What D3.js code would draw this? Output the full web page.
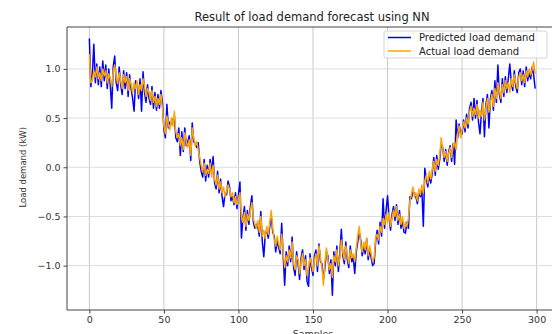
<!DOCTYPE html>
<html>
<head>
<meta charset="utf-8">
<script src="https://cdn.jsdelivr.net/npm/d3@7"></script>
<style>
  body { margin: 0; background: #fff; }
  svg { display: block; font-family: "DejaVu Sans", sans-serif; }
</style>
</head>
<body>
<script>
// values, 300 samples each
var actual = [
  1.15, 0.86, 0.88, 0.98, 0.92, 1.02, 0.90, 0.96, 0.88, 1.00,
  0.93, 0.98, 0.86, 0.95, 0.90, 0.82, 0.97, 1.04, 0.92, 0.85,
  0.96, 0.88, 0.80, 0.94, 0.86, 0.92, 0.78, 0.90, 0.84, 0.76,
  0.86, 0.80, 0.88, 0.74, 0.84, 0.78, 0.90, 0.82, 0.72, 0.80,
  0.76, 0.68, 0.78, 0.66, 0.72, 0.62, 0.70, 0.64, 0.74, 0.60,
  0.42, 0.34, 0.52, 0.44, 0.38, 0.50, 0.42, 0.57, 0.36, 0.30,
  0.34, 0.22, 0.30, 0.18, 0.35, 0.26, 0.20, 0.28, 0.12, 0.40,
  0.30, 0.22, 0.26, 0.18, 0.10, 0.02, -0.05, 0.04, -0.08, -0.02,
  -0.06, 0.04, -0.10, 0.02, -0.12, -0.18, -0.08, -0.22, -0.15, -0.26,
  -0.20, -0.30, -0.24, -0.18, -0.22, -0.30, -0.26, -0.36, -0.30, -0.38,
  -0.32, -0.26, -0.50, -0.56, -0.46, -0.60, -0.48, -0.54, -0.44, -0.36,
  -0.52, -0.58, -0.62, -0.54, -0.66, -0.50, -0.70, -0.64, -0.72, -0.60,
  -0.68, -0.56, -0.44, -0.62, -0.74, -0.80, -0.70, -0.78, -0.84, -0.68,
  -0.86, -1.02, -0.90, -0.96, -0.84, -0.92, -0.76, -0.98, -1.04, -0.90,
  -0.94, -1.08, -0.96, -0.88, -1.00, -0.94, -1.10, -1.02, -0.92, -0.98,
  -1.06, -0.94, -0.88, -1.00, -0.80, -0.92, -1.02, -1.20, -0.96, -0.82,
  -0.94, -1.04, -0.98, -1.12, -0.90, -0.96, -0.84, -1.00, -0.92, -0.74,
  -0.86, -0.94, -0.80, -0.90, -0.98, -0.84, -0.92, -0.88, -0.96, -0.82,
  -0.70, -0.60, -0.78, -0.86, -0.76, -0.84, -0.72, -0.90, -0.80, -0.88,
  -0.96, -0.92, -0.72, -0.68, -0.74, -0.60, -0.66, -0.52, -0.58, -0.48,
  -0.56, -0.46, -0.60, -0.52, -0.44, -0.50, -0.40, -0.54, -0.48, -0.58,
  -0.50, -0.62, -0.56, -0.60, -0.52, -0.34, -0.28, -0.20, -0.30, -0.26,
  -0.34, -0.22, -0.28, -0.18, -0.26, -0.14, -0.08, -0.16, -0.04, -0.12,
  -0.02, 0.06, -0.04, 0.08, 0.02, 0.12, 0.30, 0.18, 0.10, 0.16,
  0.06, 0.14, 0.20, 0.10, 0.22, 0.26, 0.18, 0.34, 0.42, 0.30,
  0.38, 0.46, 0.40, 0.50, 0.44, 0.56, 0.62, 0.52, 0.60, 0.54,
  0.64, 0.50, 0.58, 0.52, 0.66, 0.48, 0.60, 0.70, 0.56, 0.66,
  0.74, 0.62, 0.80, 0.70, 0.86, 0.78, 0.70, 0.84, 0.76, 0.88,
  0.80, 0.86, 0.76, 0.90, 0.82, 0.94, 0.86, 0.80, 0.92, 0.96,
  0.88, 0.94, 0.86, 0.98, 0.92, 1.00, 0.94, 1.00, 1.07, 0.95
];

var predicted = [
  1.31, 0.82, 0.95, 1.25, 0.86, 1.05, 0.84, 1.02, 0.82, 1.08,
  0.88, 1.04, 0.80, 1.00, 0.84, 0.60, 1.02, 1.13, 0.86, 0.78,
  1.02, 0.84, 0.74, 0.98, 0.80, 0.96, 0.72, 0.94, 0.80, 0.70,
  0.57, 0.88, 0.84, 0.70, 0.90, 0.57, 0.97, 0.76, 0.66, 0.84,
  0.70, 0.64, 0.82, 0.60, 0.76, 0.58, 0.74, 0.60, 0.78, 0.66,
  0.38, 0.30, 0.64, 0.40, 0.46, 0.44, 0.48, 0.52, 0.30, 0.26,
  0.40, 0.12, 0.36, 0.16, 0.40, 0.22, 0.26, 0.32, 0.07, 0.45,
  0.26, 0.24, 0.20, 0.25, 0.06, -0.04, -0.10, 0.08, -0.14, 0.02,
  -0.10, 0.08, -0.06, 0.11, -0.16, -0.22, -0.04, -0.26, -0.12, -0.30,
  -0.40, -0.26, -0.28, -0.14, -0.20, -0.34, -0.30, -0.38, -0.26, -0.42,
  -0.28, -0.15, -0.72, -0.52, -0.40, -0.64, -0.44, -0.58, -0.40, -0.29,
  -0.56, -0.62, -0.58, -0.60, -0.70, -0.45, -0.76, -0.91, -0.68, -0.64,
  -0.72, -0.60, -0.50, -0.66, -0.70, -0.86, -0.74, -0.82, -0.88, -0.57,
  -0.90, -1.20, -0.86, -1.00, -0.80, -0.96, -0.71, -1.02, -1.10, -0.86,
  -0.98, -1.14, -0.92, -0.84, -1.04, -0.90, -1.16, -1.21, -0.88, -1.02,
  -1.10, -0.90, -0.84, -1.06, -0.78, -0.96, -0.98, -1.14, -1.02, -0.86,
  -0.90, -1.08, -0.94, -1.30, -0.86, -1.00, -0.80, -1.06, -0.88, -0.63,
  -0.90, -0.98, -0.76, -0.94, -1.02, -0.80, -0.96, -0.92, -1.08, -0.86,
  -0.76, -0.66, -0.74, -0.90, -0.80, -0.88, -0.73, -0.94, -0.84, -0.92,
  -1.00, -0.98, -0.76, -0.64, -0.78, -0.56, -0.70, -0.32, -0.62, -0.44,
  -0.29, -0.50, -0.64, -0.48, -0.40, -0.54, -0.38, -0.58, -0.44, -0.62,
  -0.54, -0.66, -0.67, -0.56, -0.62, -0.30, -0.32, -0.24, -0.27, -0.30,
  -0.37, -0.26, -0.30, -0.22, -0.60, -0.01, -0.12, -0.20, -0.08, -0.16,
  -0.06, 0.10, -0.08, 0.12, -0.02, 0.08, 0.24, 0.20, 0.06, 0.18,
  0.02, 0.16, 0.22, 0.06, 0.24, 0.03, 0.48, 0.30, 0.44, 0.34,
  0.34, 0.48, 0.36, 0.54, 0.40, 0.60, 0.66, 0.48, 0.70, 0.50,
  0.68, 0.46, 0.34, 0.56, 0.70, 0.31, 0.64, 0.74, 0.40, 0.70,
  0.78, 0.58, 0.88, 0.66, 1.04, 0.74, 0.66, 0.90, 0.72, 0.92,
  0.76, 0.90, 1.05, 0.86, 0.78, 0.98, 0.82, 0.76, 0.96, 1.00,
  0.84, 0.98, 0.82, 1.02, 0.88, 0.96, 0.90, 1.02, 0.94, 0.80
];

var xTicks = [0, 50, 100, 150, 200, 250, 300];
var yTicks = [-1.0, -0.5, 0.0, 0.5, 1.0];
var seriesNames = ["Predicted load demand", "Actual load demand"];
var seriesColors = ["#0000ff", "#ffa500"];

(function(d3) {
  var width = 552, height = 334;
  var plotLeft = 67, plotTop = 27, plotBottom = 310, plotRight = 559;

  var svg = d3.select("body").append("svg").attr("width", width).attr("height", height);

  var x = d3.scaleLinear().domain([-15, 315]).range([plotLeft, plotRight]);
  var y = d3.scaleLinear().domain([-1.451, 1.426]).range([plotBottom, plotTop]);

  // grid
  svg.append("g").selectAll("line").data(xTicks).enter().append("line")
    .attr("x1", function(d) { return x(d); }).attr("x2", function(d) { return x(d); })
    .attr("y1", plotTop).attr("y2", plotBottom)
    .attr("stroke", "#c8c8c8").attr("stroke-width", 1);
  svg.append("g").selectAll("line").data(yTicks).enter().append("line")
    .attr("x1", plotLeft).attr("x2", plotRight)
    .attr("y1", function(d) { return y(d); }).attr("y2", function(d) { return y(d); })
    .attr("stroke", "#dcdcdc").attr("stroke-width", 1);

  // lines
  var line = d3.line().x(function(d, i) { return x(i); }).y(function(d) { return y(d); });
  [predicted, actual].forEach(function(s, k) {
    svg.append("path").datum(s).attr("d", line)
      .attr("fill", "none").attr("stroke", seriesColors[k])
      .attr("stroke-width", 1.5).attr("stroke-linejoin", "round");
  });

  // axes
  var xAxis = svg.append("g").attr("transform", "translate(0," + plotBottom + ")")
    .call(d3.axisBottom(x).tickValues(xTicks).tickSize(3.5).tickPadding(3).tickFormat(d3.format("d")));
  var yAxis = svg.append("g").attr("transform", "translate(" + plotLeft + ",0)")
    .call(d3.axisLeft(y).tickValues(yTicks).tickSize(3.5).tickPadding(3)
      .tickFormat(function(d) { return d3.format(".1f")(d).replace("-", "\u2212"); }));
  [xAxis, yAxis].forEach(function(a) {
    a.select(".domain").remove();
    a.selectAll("line").attr("stroke", "#444");
    a.selectAll("text").attr("fill", "#333").attr("font-size", "9.5px").attr("font-family", "DejaVu Sans");
  });

  // frame
  svg.append("path")
    .attr("d", "M" + plotRight + "," + plotTop + "H" + plotLeft + "V" + plotBottom + "H" + plotRight)
    .attr("fill", "none").attr("stroke", "#444").attr("stroke-width", 1);

  // titles
  svg.append("text").attr("x", 312).attr("y", 21).attr("text-anchor", "middle")
    .attr("font-size", "11.5px").attr("fill", "#222").text("Result of load demand forecast using NN");
  svg.append("text").attr("x", x(150)).attr("y", 337).attr("text-anchor", "middle")
    .attr("font-size", "9.5px").attr("fill", "#333").text("Samples");
  svg.append("text").attr("transform", "translate(26," + y(0) + ") rotate(-90)")
    .attr("text-anchor", "middle").attr("font-size", "8.5px").attr("fill", "#333")
    .text("Load demand (kW)");

  // legend
  var lg = svg.append("g").attr("transform", "translate(384,31)");
  lg.append("rect").attr("width", 163).attr("height", 27).attr("rx", 2)
    .attr("fill", "#fff").attr("fill-opacity", 0.8).attr("stroke", "#d5d5d5");
  seriesNames.forEach(function(name, i) {
    var yy = 6.5 + i * 13.5;
    lg.append("line").attr("x1", 4).attr("x2", 27).attr("y1", yy).attr("y2", yy)
      .attr("stroke", seriesColors[i]).attr("stroke-width", 1.5);
    lg.append("text").attr("x", 35).attr("y", yy + 3.5).attr("font-size", "10px")
      .attr("fill", "#222").text(name);
  });
})(d3);
</script>
</body>
</html>
